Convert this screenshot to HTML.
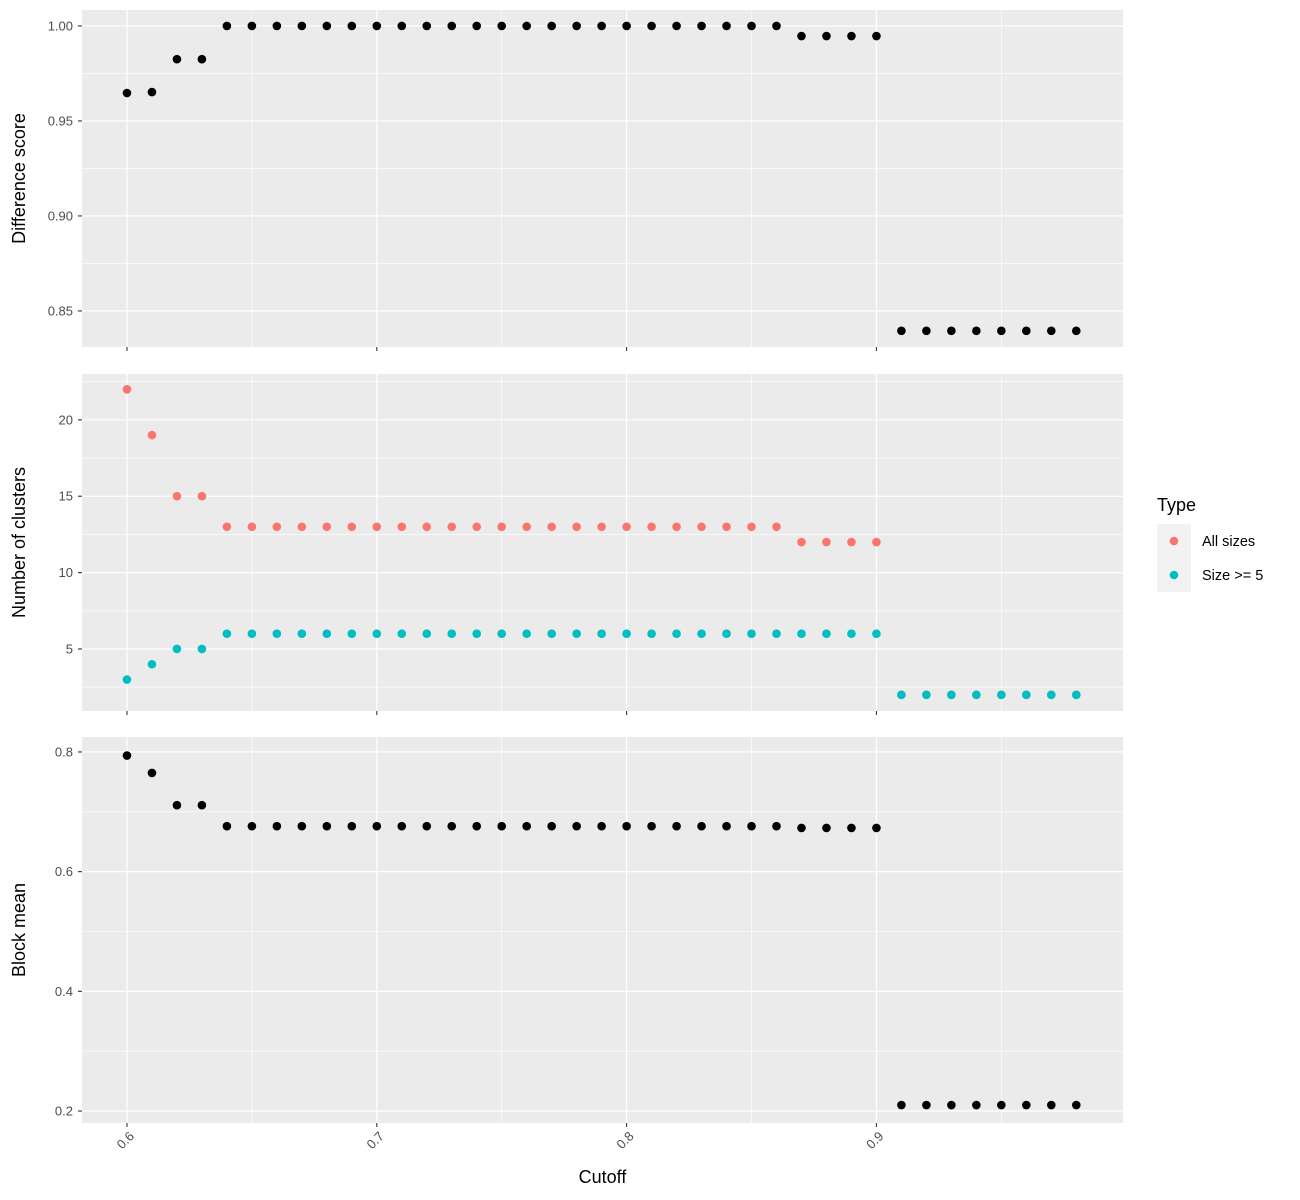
<!DOCTYPE html>
<html><head><meta charset="utf-8">
<style>
body{margin:0;background:#fff;}
svg{display:block;font-family:"Liberation Sans",sans-serif;}
</style></head>
<body>
<svg id="chart" width="1300" height="1200" viewBox="0 0 1300 1200" xmlns="http://www.w3.org/2000/svg"></svg>
<script>
const cutoffs = [0.60,0.61,0.62,0.63,0.64,0.65,0.66,0.67,0.68,0.69,0.70,0.71,0.72,0.73,0.74,0.75,0.76,0.77,0.78,0.79,0.80,0.81,0.82,0.83,0.84,0.85,0.86,0.87,0.88,0.89,0.90,0.91,0.92,0.93,0.94,0.95,0.96,0.97,0.98];
const diffScore = [0.9647,0.9652,0.9825,0.9825,1,1,1,1,1,1,1,1,1,1,1,1,1,1,1,1,1,1,1,1,1,1,1,0.9947,0.9947,0.9947,0.9947,0.8395,0.8395,0.8395,0.8395,0.8395,0.8395,0.8395,0.8395];
const allSizes = [22,19,15,15,13,13,13,13,13,13,13,13,13,13,13,13,13,13,13,13,13,13,13,13,13,13,13,12,12,12,12,2,2,2,2,2,2,2,2];
const size5 = [3,4,5,5,6,6,6,6,6,6,6,6,6,6,6,6,6,6,6,6,6,6,6,6,6,6,6,6,6,6,6,2,2,2,2,2,2,2,2];
const blockMean = [0.794,0.765,0.711,0.711,0.676,0.676,0.676,0.676,0.676,0.676,0.676,0.676,0.676,0.676,0.676,0.676,0.676,0.676,0.676,0.676,0.676,0.676,0.676,0.676,0.676,0.676,0.676,0.673,0.673,0.673,0.673,0.21,0.21,0.21,0.21,0.21,0.21,0.21,0.21];
const xTicks = [0.6,0.7,0.8,0.9];
const xTickLabels = ["0.6","0.7","0.8","0.9"];
const p1Ticks = [0.85,0.90,0.95,1.00];
const p1Labels = ["0.85","0.90","0.95","1.00"];
const p2Ticks = [5,10,15,20];
const p2Labels = ["5","10","15","20"];
const p3Ticks = [0.2,0.4,0.6,0.8];
const p3Labels = ["0.2","0.4","0.6","0.8"];

const svg = document.getElementById('chart');
const NS = 'http://www.w3.org/2000/svg';
function mk(tag, attrs, parent){
  const e = document.createElementNS(NS, tag);
  for (const k in attrs) e.setAttribute(k, attrs[k]);
  (parent||svg).appendChild(e);
  return e;
}
const L = 82, R = 1123;
const xMin = 0.582, xMax = 0.9987;
const xs = v => L + (v - xMin) / (xMax - xMin) * (R - L);

const panels = [
  {name:'difference-score', top:10, bot:347, min:0.831, max:1.0084, ticks:p1Ticks, labels:p1Labels, title:'Difference score'},
  {name:'number-of-clusters', top:374, bot:711, min:0.94, max:23.0, ticks:p2Ticks, labels:p2Labels, title:'Number of clusters'},
  {name:'block-mean', top:737, bot:1123, min:0.18, max:0.825, ticks:p3Ticks, labels:p3Labels, title:'Block mean'}
];
panels.forEach((p, pi) => {
  p.ys = v => p.bot - (v - p.min) / (p.max - p.min) * (p.bot - p.top);
  const g = mk('g', {});
  
  
  mk('rect', {x:L, y:p.top, width:R-L, height:p.bot-p.top, fill:'#ebebeb'}, g);
  // minor y grid
  for (let i = 0; i < p.ticks.length - 1; i++) {
    const m = (p.ticks[i] + p.ticks[i+1]) / 2;
    mk('line', {x1:L, x2:R, y1:p.ys(m), y2:p.ys(m), stroke:'#fff', 'stroke-width':0.6}, g);
  }
  const step = p.ticks[1] - p.ticks[0];
  [p.ticks[0]-step/2, p.ticks[p.ticks.length-1]+step/2].forEach(m => {
    const y = p.ys(m);
    if (y > p.top && y < p.bot) mk('line', {x1:L, x2:R, y1:y, y2:y, stroke:'#fff', 'stroke-width':0.6}, g);
  });
  // minor x grid
  [0.65,0.75,0.85,0.95].forEach(m => mk('line', {x1:xs(m), x2:xs(m), y1:p.top, y2:p.bot, stroke:'#fff', 'stroke-width':0.6}, g));
  // major
  p.ticks.forEach((t, i) => {
    const y = p.ys(t);
    mk('line', {x1:L, x2:R, y1:y, y2:y, stroke:'#fff', 'stroke-width':1.2}, g);
    mk('line', {x1:78, x2:L, y1:y, y2:y, stroke:'#333', 'stroke-width':1.1}, g);
    const tx = mk('text', {x:73, y:y+4.5, 'text-anchor':'end', 'font-size':13, fill:'#4d4d4d'}, g);
    tx.textContent = p.labels[i];
    
    
  });
  xTicks.forEach((t, i) => {
    const x = xs(t);
    mk('line', {x1:x, x2:x, y1:p.top, y2:p.bot, stroke:'#fff', 'stroke-width':1.2}, g);
    mk('line', {x1:x, x2:x, y1:p.bot, y2:p.bot+4, stroke:'#333', 'stroke-width':1.1}, g);
    if (pi === 2) {
      const tx = mk('text', {x:x+8, y:p.bot+14, 'text-anchor':'end', 'font-size':13, fill:'#4d4d4d', transform:`rotate(-45 ${x+8} ${p.bot+14})`}, g);
      tx.textContent = xTickLabels[i];
      
      
    }
  });
  const cy = (p.top + p.bot) / 2;
  const tt = mk('text', {x:25, y:cy, 'text-anchor':'middle', 'font-size':18, fill:'#000', transform:`rotate(-90 25 ${cy})`}, g);
  tt.textContent = p.title;
  
  
});

function drawPts(p, vals, color, name){
  vals.forEach((v, i) => {
    const c = mk('circle', {cx:xs(cutoffs[i]), cy:p.ys(v), r:4.3, fill:color});
    
    
  });
}
drawPts(panels[0], diffScore, '#000', 'difference-score-point');
drawPts(panels[1], allSizes, '#F8766D', 'all-sizes-point');
drawPts(panels[1], size5, '#00BFC4', 'size-ge-5-point');
drawPts(panels[2], blockMean, '#000', 'block-mean-point');

const xt = mk('text', {x:(L+R)/2, y:1183, 'text-anchor':'middle', 'font-size':18, fill:'#000'});
xt.textContent = 'Cutoff';



// legend
const lg = mk('g', {});


const lt = mk('text', {x:1157, y:511, 'font-size':18, fill:'#000'}, lg);
lt.textContent = 'Type';


[['All sizes','#F8766D',524],['Size >= 5','#00BFC4',558]].forEach(([lab,col,y]) => {
  const e = mk('g', {}, lg);
  
  
  mk('rect', {x:1157, y:y, width:34, height:34, fill:'#f2f2f2'}, e);
  mk('circle', {cx:1174, cy:y+17, r:4.3, fill:col}, e);
  const t = mk('text', {x:1202, y:y+22, 'font-size':14.5, fill:'#000'}, e);
  t.textContent = lab;
});
</script>
</body></html>
